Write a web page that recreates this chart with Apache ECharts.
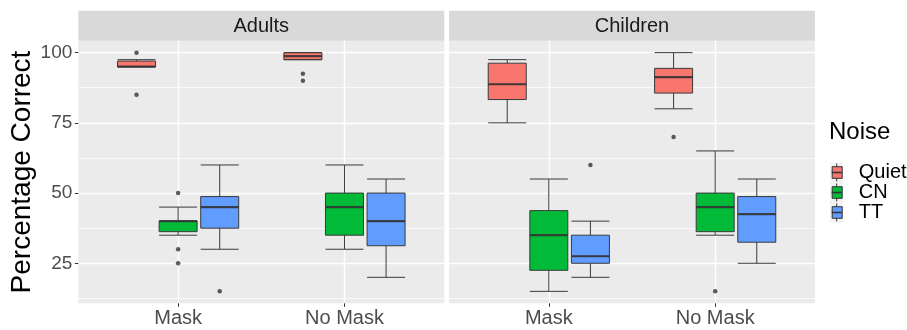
<!DOCTYPE html>
<html><head><meta charset="utf-8">
<script src="https://cdn.jsdelivr.net/npm/echarts@6/dist/echarts.min.js"></script>
<style>html,body{margin:0;padding:0;background:#fff}#c{width:907px;height:330px}</style>
</head><body><div id="c"></div>
<script>
// ---- data ----
const categories = ['Mask', 'No Mask'];
const panels = ['Adults', 'Children'];
const noiseLevels = ['Quiet', 'CN', 'TT'];
const yTicks = [25, 50, 75, 100];
const yMinorTicks = [12.5, 37.5, 62.5, 87.5];
// [min, q1, median, q3, max] for Mask, No Mask
const adultsQuiet = [[95, 95, 95, 97, 97.5], [97.5, 97.5, 98.75, 100, 100]];
const adultsCN = [[35, 36.25, 40, 40, 45], [30, 35, 45, 50, 60]];
const adultsTT = [[30, 37.5, 45, 48.75, 60], [20, 31.25, 40, 50, 55]];
const childrenQuiet = [[75, 83.3, 88.75, 96.25, 97.5], [80, 85.6, 91.25, 94.4, 100]];
const childrenCN = [[15, 22.5, 35, 43.75, 55], [35, 36.25, 45, 50, 65]];
const childrenTT = [[20, 25, 27.5, 35, 40], [25, 32.5, 42.5, 48.75, 55]];
// outliers: [category index, value]
const adultsQuietOut = [[0, 100], [0, 85], [1, 92.5], [1, 90]];
const adultsCNOut = [[0, 50], [0, 30], [0, 25]];
const adultsTTOut = [[0, 15]];
const childrenQuietOut = [[1, 70]];
const childrenCNOut = [[1, 15]];
const childrenTTOut = [[0, 60]];

// ---- styling / layout ----
const colors = ['#F8766D', '#00BA38', '#619CFF'];
const FONT = "'Liberation Sans', Arial, sans-serif";
const boxStats = [[adultsQuiet, adultsCN, adultsTT], [childrenQuiet, childrenCN, childrenTT]];
const outStats = [[adultsQuietOut, adultsCNOut, adultsTTOut], [childrenQuietOut, childrenCNOut, childrenTTOut]];
const dodge = [-0.25, 0, 0.25];
const gridLeft = [78.3, 449];
const GT = 40.7, GW = 366, GH = 262.6;
const YMIN = 10.75, YMAX = 104.25;
const BOXW = 38;

const grid = gridLeft.map(l => ({ left: l, top: GT, width: GW, height: GH, show: true, backgroundColor: '#EBEBEB', borderWidth: 0 }));

const xAxis = [];
const yAxis = [];
panels.forEach((p, gi) => {
  noiseLevels.forEach((n, k) => {
    xAxis.push({
      type: 'value', gridIndex: gi, position: 'bottom', offset: 0, min: 0.4, max: 2.6, show: k === 1,
      axisLine: { show: false },
      axisTick: { show: true, customValues: [1, 2], length: 3.5, lineStyle: { color: '#333333', width: 1 } },
      axisLabel: { customValues: [1, 2], formatter: v => categories[Math.round(v) - 1], fontSize: 20, color: '#4D4D4D', margin: 5, fontFamily: FONT },
      splitLine: { show: true, lineStyle: { color: '#FFFFFF', width: 1.4 } }
    });
  });
  yAxis.push({
    type: 'value', gridIndex: gi, position: 'left', min: YMIN, max: YMAX,
    axisLine: { show: false },
    axisTick: { show: gi === 0, customValues: yTicks, length: 3.5, lineStyle: { color: '#333333', width: 1 } },
    axisLabel: { show: gi === 0, customValues: yTicks, fontSize: 19, color: '#4D4D4D', margin: 6, fontFamily: FONT },
    splitLine: { show: true, lineStyle: { color: '#FFFFFF', width: 1.4 } },
    name: gi === 0 ? 'Percentage Correct' : '', nameLocation: 'middle', nameGap: 35,
    nameTextStyle: { fontSize: 28, color: '#000000', fontFamily: FONT }
  });
  yAxis.push({
    type: 'value', gridIndex: gi, position: 'left', offset: 0, min: YMIN, max: YMAX,
    axisLine: { show: false },
    axisTick: { show: false, customValues: yMinorTicks },
    axisLabel: { show: false, customValues: yMinorTicks },
    splitLine: { show: true, lineStyle: { color: '#FFFFFF', width: 0.7 } }
  });
});

const series = [];
panels.forEach((p, gi) => {
  noiseLevels.forEach((n, k) => {
    const stats = boxStats[gi][k];
    const xi = gi * 3 + k, yi = gi * 2;
    series.push({
      type: 'boxplot', name: n, xAxisIndex: xi, yAxisIndex: yi,
      boxWidth: [BOXW, BOXW],
      itemStyle: { color: colors[k], borderColor: '#3A3A3A', borderWidth: 1 },
      emphasis: { disabled: true }, silent: true, z: 2,
      data: stats.map((s, ci) => [ci + 1 + dodge[k]].concat(s))
    });
    series.push({
      type: 'scatter', name: n + ' median', xAxisIndex: xi, yAxisIndex: yi,
      symbol: 'rect', symbolSize: [BOXW, 2.2], itemStyle: { color: '#333333' }, silent: true, z: 3,
      data: stats.map((s, ci) => [ci + 1 + dodge[k], s[2]])
    });
    series.push({
      type: 'scatter', name: n + ' outliers', xAxisIndex: xi, yAxisIndex: yi,
      symbol: 'circle', symbolSize: 4.5, itemStyle: { color: '#333333' }, silent: true, z: 3,
      data: outStats[gi][k].map(o => [o[0] + 1 + dodge[k], o[1]])
    });
  });
});

const graphic = [];
panels.forEach((p, gi) => {
  graphic.push({ type: 'rect', shape: { x: gridLeft[gi], y: 10.7, width: GW, height: 30 }, style: { fill: '#D9D9D9' }, silent: true });
  graphic.push({ type: 'text', x: gridLeft[gi] + GW / 2, y: 26, style: { text: p, fontSize: 20, fontFamily: FONT, fontWeight: 'normal', fill: '#1A1A1A', align: 'center', verticalAlign: 'middle' }, silent: true });
});
// legend key background and key decorations
const keyX = 831.7, keyW = 10, keyTop = 162.5, rowH = 20;
graphic.push({ type: 'rect', shape: { x: 830, y: keyTop, width: 13, height: rowH * 3 }, style: { fill: '#F2F2F2' }, silent: true });
noiseLevels.forEach((n, k) => {
  const cy = keyTop + rowH * k + rowH / 2, cx = keyX + keyW / 2;
  graphic.push({ type: 'line', z: 10, shape: { x1: cx, y1: cy - 9, x2: cx, y2: cy - 5.8 }, style: { stroke: '#333333', lineWidth: 1 }, silent: true });
  graphic.push({ type: 'line', z: 10, shape: { x1: cx, y1: cy + 5.8, x2: cx, y2: cy + 9 }, style: { stroke: '#333333', lineWidth: 1 }, silent: true });
  graphic.push({ type: 'line', z: 10, shape: { x1: keyX, y1: cy, x2: keyX + keyW, y2: cy }, style: { stroke: '#333333', lineWidth: 1.6 }, silent: true });
});

const option = {
  animation: false,
  textStyle: { fontFamily: FONT },
  title: { text: 'Noise', left: 829, top: 120, padding: 0, textStyle: { fontSize: 24, fontWeight: 'normal', color: '#000000', fontFamily: FONT } },
  legend: {
    data: noiseLevels.map((n, k) => ({ name: n, itemStyle: { color: colors[k], borderColor: '#333333', borderWidth: 1 } })),
    orient: 'vertical', left: keyX, top: keyTop, padding: 0, itemGap: 0,
    itemWidth: keyW, itemHeight: 11.6, icon: 'rect', selectedMode: false,
    textStyle: { fontSize: 20, lineHeight: 20, color: '#000000', fontFamily: FONT, padding: [0, 0, 0, 11.6] }
  },
  grid, xAxis, yAxis, series, graphic
};
const chart = echarts.init(document.getElementById('c'), null, { renderer: 'canvas' });
chart.setOption(option);
</script>
</body></html>
